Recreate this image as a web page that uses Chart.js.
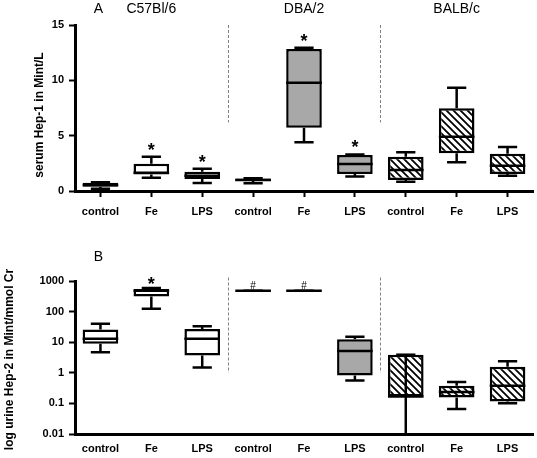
<!DOCTYPE html>
<html><head><meta charset="utf-8">
<script src="https://cdn.jsdelivr.net/npm/chart.js@4.4.0/dist/chart.umd.min.js"></script>
<style>
html,body{margin:0;padding:0;background:#fff;}
#wrap{position:relative;width:537px;height:458px;overflow:hidden;}
#ca{position:absolute;left:0;top:0;}
#cb{position:absolute;left:0;top:225px;}
</style></head><body>
<div id="wrap"><canvas id="ca" width="537" height="225"></canvas><canvas id="cb" width="537" height="233"></canvas></div>
<script>
// ---------- data ----------
const categories = ['control','Fe','LPS','control','Fe','LPS','control','Fe','LPS'];
const strains = ['C57Bl/6','DBA/2','BALB/c'];

// Panel A: serum Hep-1 (Mint/L)
const hep1Min    = [0.20, 1.20, 0.72, 0.70, 4.40, 1.30, 0.84, 2.60, 1.38];
const hep1Q1     = [0.39, 1.50, 1.08, 0.90, 5.72, 1.54, 1.00, 3.40, 1.54];
const hep1Median = [0.55, 1.65, 1.38, 1.00, 9.78, 2.44, 1.90, 4.90, 2.28];
const hep1Q3     = [0.75, 2.47, 1.75, 1.12, 12.83, 3.25, 3.10, 7.47, 3.37];
const hep1Max    = [0.80, 3.10, 2.00, 1.15, 12.95, 3.30, 3.50, 9.33, 3.97];
const hep1Marks  = ['', '*', '*', '', '*', '*', '', '', ''];
const hep1Ticks  = [0, 5, 10, 15];

// Panel B: urine Hep-2 (Mint/mmol Cr), log scale
const hep2Min    = [4.7, 123, 1.5, 480, 480, 0.56, 0, 0.065, 0.102];
const hep2Q1     = [8.9, 310, 3.7, 480, 480, 0.82, 0.168, 0.156, 0.115];
const hep2Median = [13, 480, 13, 480, 480, 5.2, 0.168, 0.234, 0.376];
const hep2Q3     = [26, 543, 27, 480, 480, 12.6, 3.9, 0.376, 1.57];
const hep2Max    = [40, 590, 33, 480, 480, 15, 3.9, 0.5, 2.4];
const hep2Marks  = ['', '*', '', '#', '#', '', '', '', ''];
const hep2Ticks  = [0.01, 0.1, 1, 10, 100, 1000];

// ---------- styling helpers ----------
const FONT = "'Liberation Sans', Arial, Helvetica, sans-serif";

function makeHatch(){
  const s = 7, c = document.createElement('canvas');
  c.width = s; c.height = s;
  const g = c.getContext('2d');
  g.fillStyle = '#fff'; g.fillRect(0,0,s,s);
  g.strokeStyle = '#000'; g.lineWidth = 1.8;
  g.beginPath();
  g.moveTo(-1,-1); g.lineTo(s+1,s+1);
  g.moveTo(-1,s-1); g.lineTo(1,s+1);
  g.moveTo(s-1,-1); g.lineTo(s+1,1);
  g.stroke();
  return document.createElement('canvas').getContext('2d').createPattern(c,'repeat');
}
const hatch = makeHatch();
const groupFill = ['#ffffff', '#a8a8a8', hatch];
const fills = categories.map((_, i) => groupFill[Math.floor(i / 3)]);

function boxPlugin(cfg){
  return {
    id: 'boxes_' + cfg.id,
    afterDatasetsDraw(chart){
      const ctx = chart.ctx, xs = chart.scales.x, ys = chart.scales.y;
      const meta = chart.getDatasetMeta(0);
      const area = chart.chartArea;
      ctx.save();
      // dashed separators between strains
      ctx.strokeStyle = '#808080'; ctx.lineWidth = 1; ctx.setLineDash([3,2]);
      [2.5, 5.5].forEach(v => {
        const px = Math.round(xs.getPixelForValue(v)) + 0.5;
        ctx.beginPath();
        ctx.moveTo(px, ys.getPixelForValue(cfg.sepRange[1]));
        ctx.lineTo(px, ys.getPixelForValue(cfg.sepRange[0]));
        ctx.stroke();
      });
      ctx.setLineDash([]);
      ctx.strokeStyle = '#000'; ctx.lineCap = 'butt';
      meta.data.forEach((bar, i) => {
        const cx = bar.x, w = bar.width, cap = w * 0.27;
        const pMin = ys.getPixelForValue(cfg.min[i]);
        const pMax = ys.getPixelForValue(cfg.max[i]);
        const pQ1 = ys.getPixelForValue(cfg.q1[i]);
        const pQ3 = ys.getPixelForValue(cfg.q3[i]);
        const pMed = ys.getPixelForValue(cfg.med[i]);
        ctx.lineWidth = 2.5;
        ctx.beginPath();
        if (cfg.min[i] <= 0) {
          ctx.moveTo(cx, pMax); ctx.lineTo(cx, Math.min(pMin, area.bottom));
        } else {
          ctx.moveTo(cx, pQ3); ctx.lineTo(cx, pMax);
          ctx.moveTo(cx, pQ1); ctx.lineTo(cx, pMin);
        }
        ctx.stroke();
        ctx.beginPath();
        ctx.moveTo(cx - cap, pMax); ctx.lineTo(cx + cap, pMax);
        if (cfg.min[i] > 0) { ctx.moveTo(cx - cap, pMin); ctx.lineTo(cx + cap, pMin); }
        ctx.stroke();
        ctx.lineWidth = 2.5;
        ctx.beginPath();
        ctx.moveTo(cx - w/2, pMed); ctx.lineTo(cx + w/2, pMed);
        ctx.stroke();
        // significance marks
        const m = cfg.marks[i];
        if (m) {
          ctx.fillStyle = '#000'; ctx.textAlign = 'center'; ctx.textBaseline = 'alphabetic';
          if (m === '*') { ctx.font = 'bold 18px ' + FONT; ctx.fillText(m, cx, pMax + cfg.starDy); }
          else { ctx.font = '10px ' + FONT; ctx.fillText(m, cx, pMax - 2); }
        }
      });
      // panel letter + strain labels
      ctx.fillStyle = '#000'; ctx.textAlign = 'center'; ctx.textBaseline = 'middle';
      ctx.font = '14px ' + FONT;
      ctx.fillText(cfg.letter, xs.getPixelForValue(0) - 2, cfg.letterY);
      if (cfg.strains) {
        cfg.strains.forEach((s, k) => ctx.fillText(s, xs.getPixelForValue(k * 3 + 1), cfg.letterY));
      }
      // y axis title
      ctx.font = 'bold 12px ' + FONT;
      ctx.translate(cfg.titleX, (area.top + area.bottom) / 2 + cfg.titleDy);
      ctx.rotate(-Math.PI / 2);
      ctx.fillText(cfg.yTitle, 0, 0);
      ctx.restore();
    }
  };
}

function makeChart(canvasId, cfg){
  const tickFont = {family: FONT, size: 11, weight: 'bold'};
  const yScale = {
    type: cfg.log ? 'logarithmic' : 'linear',
    min: cfg.ticks[0], max: cfg.ticks[cfg.ticks.length - 1],
    afterBuildTicks(s){ s.ticks = cfg.ticks.map(v => ({value: v})); },
    afterFit(s){ s.width = 75; },
    grid: {display: true, drawOnChartArea: false, drawTicks: true, tickLength: 6, tickWidth: 2, tickColor: '#000', color: '#000'},
    border: {display: true, color: '#000', width: 3},
    ticks: {color: '#000', font: tickFont, padding: 5, callback: v => String(v)}
  };
  const xScale = {
    type: 'category', offset: true,
    afterFit(s){ s.height = cfg.xHeight; },
    grid: cfg.xTicks
      ? {display: true, offset: false, drawOnChartArea: false, drawTicks: true, tickLength: 6, tickWidth: 2, tickColor: '#000', color: '#000'}
      : {display: false},
    border: {display: true, color: '#000', width: 3},
    ticks: {color: '#000', font: tickFont, padding: cfg.xPad, maxRotation: 0, autoSkip: false}
  };
  return new Chart(document.getElementById(canvasId), {
    type: 'bar',
    data: {
      labels: categories,
      datasets: [{
        data: categories.map((_, i) => [cfg.q1[i], cfg.q3[i]]),
        backgroundColor: fills,
        borderColor: '#000',
        borderWidth: 2.5,
        borderSkipped: false,
        barPercentage: 0.7,
        categoryPercentage: 1
      }]
    },
    options: {
      responsive: false, animation: false,
      layout: {padding: {left: 0, right: 4, top: cfg.padTop, bottom: 0}},
      plugins: {legend: {display: false}, tooltip: {enabled: false}},
      scales: {x: xScale, y: yScale}
    },
    plugins: [boxPlugin(cfg)]
  });
}

makeChart('ca', {
  id: 'A', log: false, ticks: hep1Ticks,
  min: hep1Min, q1: hep1Q1, med: hep1Median, q3: hep1Q3, max: hep1Max, marks: hep1Marks,
  sepRange: [6.2, 15], padTop: 25, xHeight: 34, xTicks: true, xPad: 8,
  letter: 'A', letterY: 9, strains: strains, starDy: -1,
  yTitle: 'serum Hep-1 in Mint/L', titleX: 40, titleDy: 7
});
makeChart('cb', {
  id: 'B', log: true, ticks: hep2Ticks,
  min: hep2Min, q1: hep2Q1, med: hep2Median, q3: hep2Q3, max: hep2Max, marks: hep2Marks,
  sepRange: [1, 1300], padTop: 56, xHeight: 24, xTicks: false, xPad: 0,
  letter: 'B', letterY: 32, strains: null, starDy: 2,
  yTitle: 'log urine Hep-2 in Mint/mmol Cr', titleX: 10, titleDy: 2
});
</script>
</body></html>
